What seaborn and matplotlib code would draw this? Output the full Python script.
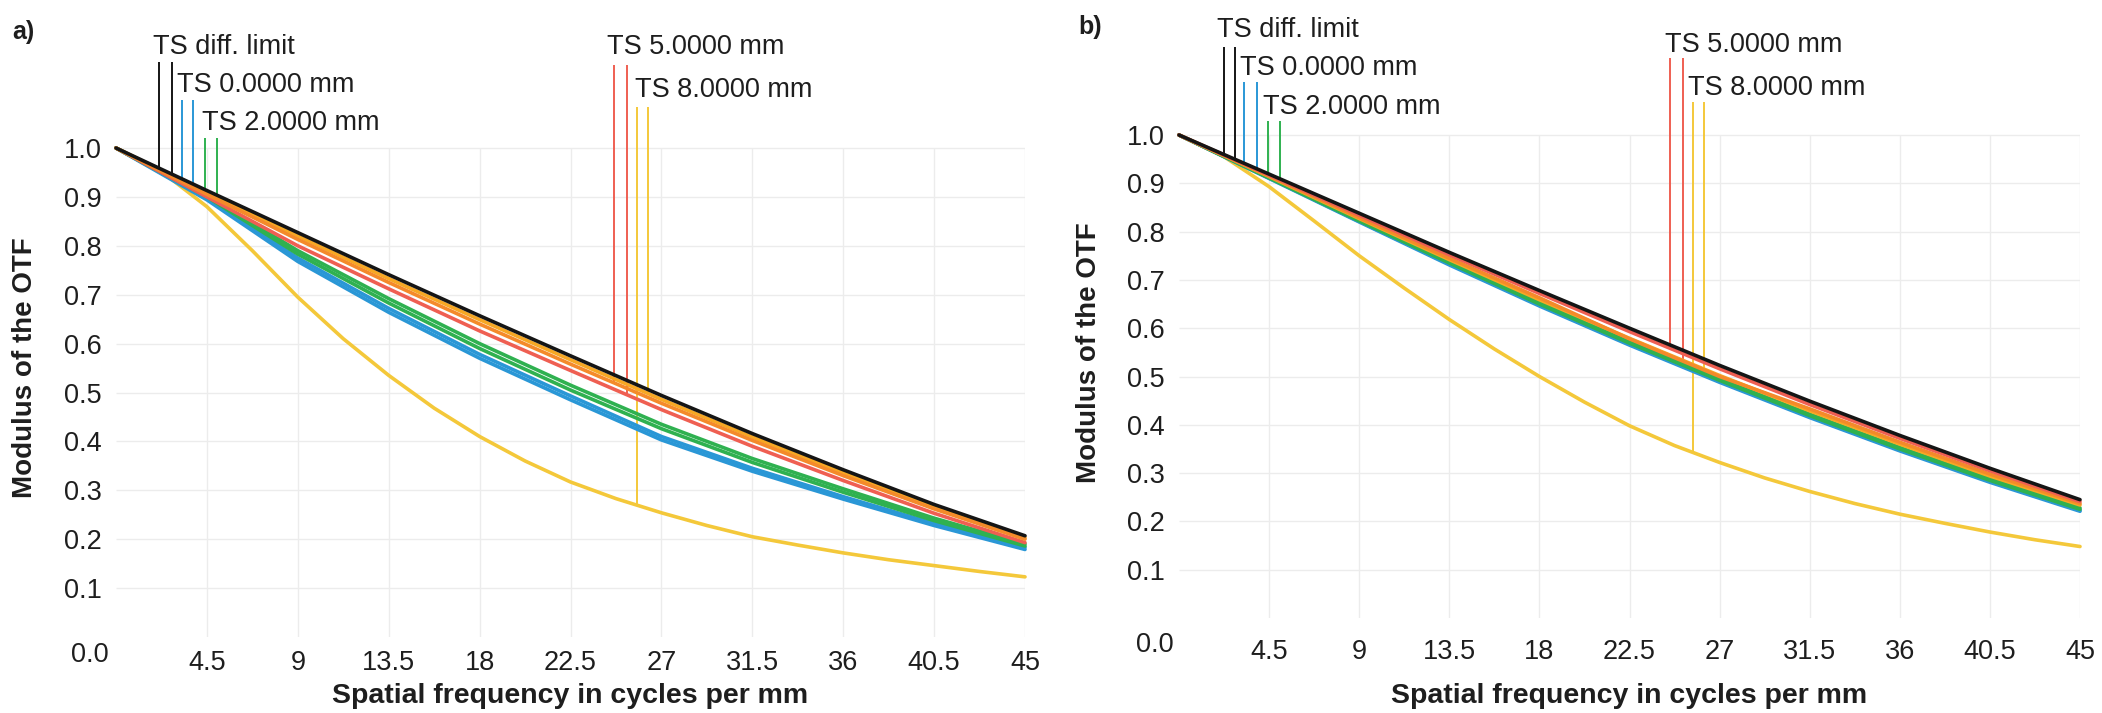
import numpy as np
import pandas as pd
import seaborn as sns
import matplotlib.pyplot as plt

sns.set_style("white")
plt.rcParams['font.family'] = ['Liberation Sans', 'DejaVu Sans']

# spatial frequency samples (cycles per mm)
freq = [0, 4.5, 9, 13.5, 18, 22.5, 27, 31.5, 36, 40.5, 45]
freq_fine = [0, 2.25, 4.5, 6.75, 9, 11.25, 13.5, 15.75, 18, 20.25, 22.5,
             24.75, 27, 29.25, 31.5, 33.75, 36, 38.25, 40.5, 42.75, 45]
xtick_vals = [4.5, 9, 13.5, 18, 22.5, 27, 31.5, 36, 40.5, 45]
xtick_labels = ["4.5", "9", "13.5", "18", "22.5", "27", "31.5", "36", "40.5", "45"]
ytick_vals = [0.1, 0.2, 0.3, 0.4, 0.5, 0.6, 0.7, 0.8, 0.9, 1.0]

# panel a) MTF values
a_diff = [1.0, 0.913, 0.827, 0.741, 0.657, 0.575, 0.494, 0.416, 0.342, 0.271, 0.207]
a_8mm_s = [1.0, 0.909, 0.820, 0.733, 0.649, 0.567, 0.486, 0.409, 0.336, 0.266, 0.203]
a_5mm_s = [1.0, 0.905, 0.813, 0.725, 0.640, 0.558, 0.478, 0.402, 0.330, 0.262, 0.200]
a_5mm_t = [1.0, 0.900, 0.800, 0.712, 0.626, 0.545, 0.465, 0.390, 0.320, 0.253, 0.193]
a_2mm_t = [1.0, 0.902, 0.790, 0.692, 0.600, 0.515, 0.435, 0.365, 0.303, 0.243, 0.190]
a_2mm_s = [1.0, 0.900, 0.783, 0.683, 0.590, 0.505, 0.426, 0.357, 0.296, 0.238, 0.186]
a_0mm_t = [1.0, 0.897, 0.775, 0.672, 0.578, 0.493, 0.410, 0.345, 0.287, 0.232, 0.183]
a_0mm_s = [1.0, 0.894, 0.768, 0.664, 0.570, 0.485, 0.403, 0.339, 0.282, 0.228, 0.179]
# the 8 mm tangential curve bends a lot, so it is read on the finer grid
a_8mm_t = [1.0, 0.952, 0.880, 0.790, 0.695, 0.610, 0.535, 0.468, 0.410, 0.360, 0.317,
           0.283, 0.254, 0.228, 0.205, 0.188, 0.172, 0.158, 0.146, 0.134, 0.123]

# panel b)
b_diff = [1.0, 0.919, 0.838, 0.757, 0.678, 0.600, 0.523, 0.449, 0.378, 0.310, 0.245]
b_5mm_s = [1.0, 0.917, 0.834, 0.752, 0.672, 0.593, 0.516, 0.442, 0.372, 0.305, 0.241]
b_5mm_t = [1.0, 0.915, 0.829, 0.745, 0.663, 0.578, 0.500, 0.433, 0.364, 0.298, 0.237]
b_8mm_s = [1.0, 0.914, 0.827, 0.742, 0.659, 0.579, 0.502, 0.429, 0.360, 0.294, 0.234]
b_2mm_t = [1.0, 0.912, 0.824, 0.738, 0.653, 0.572, 0.495, 0.422, 0.353, 0.288, 0.228]
b_2mm_s = [1.0, 0.911, 0.822, 0.735, 0.650, 0.569, 0.492, 0.419, 0.350, 0.285, 0.225]
b_0mm_t = [1.0, 0.911, 0.821, 0.733, 0.648, 0.567, 0.490, 0.417, 0.348, 0.283, 0.223]
b_0mm_s = [1.0, 0.910, 0.820, 0.731, 0.646, 0.565, 0.488, 0.415, 0.346, 0.281, 0.221]
b_8mm_t = [1.0, 0.955, 0.893, 0.822, 0.750, 0.683, 0.618, 0.557, 0.500, 0.447, 0.398,
           0.357, 0.322, 0.290, 0.262, 0.237, 0.215, 0.196, 0.178, 0.162, 0.148]

field_names = ["TS diff. limit", "TS 0.0000 mm", "TS 2.0000 mm", "TS 5.0000 mm", "TS 8.0000 mm"]

BLACK = "#151515"
BLUE = "#2a97d6"
GREEN = "#2fb150"
RED = "#ef5f52"
ORANGE = "#f48a2a"
YELLOW = "#f4c83a"
AMBER = "#f7a824"
TXT = "#1e1e1e"


def xs_for(vals):
    return freq_fine if len(vals) == len(freq_fine) else freq


def draw_panel(ax, curves, leaders, texts, tag, tag_xy, xpad, zero_off, xlabel_y):
    # faint grid inside the 0..1 box
    ax.hlines(ytick_vals, 0, 45, color="#ececec", lw=1, zorder=0)
    ax.vlines(xtick_vals, 0, 1.0, color="#ececec", lw=1, zorder=0)

    for vals, col in curves:
        sns.lineplot(x=xs_for(vals), y=vals, color=col, lw=2.6, ax=ax, legend=False,
                     zorder=3, clip_on=False)

    # leader lines from the curve up to the field labels
    for xs, series, top, col in leaders:
        for xl, s in zip(xs, series):
            bottom = np.interp(xl, xs_for(s), s)
            ax.vlines(xl, bottom, top, color=col, lw=1.4, zorder=2)

    for name, (tx, ty) in zip(field_names, texts):
        ax.text(tx, ty, name, ha="left", va="center", fontsize=19.5, color=TXT)

    ax.set_xlim(0, 45)
    ax.set_ylim(0, 1.25)
    ax.set_xticks(xtick_vals)
    ax.set_xticklabels(xtick_labels)
    ax.set_yticks(ytick_vals)
    ax.set_yticklabels([f"{v:.1f}" for v in ytick_vals])
    ax.tick_params(axis="both", length=0, labelsize=19.5, labelcolor=TXT)
    ax.tick_params(axis="y", pad=10)
    ax.tick_params(axis="x", pad=xpad)
    for sp in ax.spines.values():
        sp.set_visible(False)

    ax.annotate("0.0", xy=(0, 0), xytext=zero_off, textcoords="offset pixels",
                ha="right", va="center", fontsize=19.5, color=TXT)

    ax.set_xlabel("Spatial frequency in cycles per mm", fontsize=20.5, fontweight="bold",
                  color=TXT)
    ax.xaxis.set_label_coords(0.5, xlabel_y)
    ax.set_ylabel("Modulus of the OTF", fontsize=20, fontweight="bold", color=TXT)
    ax.yaxis.set_label_coords(-0.086, 0.44)

    fig.text(tag_xy[0], tag_xy[1], tag, fontsize=18, fontweight="bold", ha="left",
             va="center", color=TXT)


fig = plt.figure(figsize=(21.02, 7.13), dpi=100)
ax_a = fig.add_axes([0.05519, 0.10659, 0.43245, 0.85729])
ax_b = fig.add_axes([0.56090, 0.13324, 0.42864, 0.84677])

curves_a = [(a_8mm_t, YELLOW), (a_0mm_s, BLUE), (a_0mm_t, BLUE), (a_2mm_s, GREEN),
            (a_2mm_t, GREEN), (a_5mm_t, RED), (a_8mm_s, AMBER), (a_5mm_s, ORANGE),
            (a_diff, BLACK)]
leaders_a = [((2.13, 2.77), (a_diff, a_diff), 1.176, BLACK),
             ((3.27, 3.81), (a_0mm_t, a_0mm_s), 1.098, BLUE),
             ((4.41, 5.0), (a_2mm_t, a_2mm_s), 1.02, GREEN),
             ((24.65, 25.3), (a_5mm_s, a_5mm_t), 1.17, RED),
             ((25.8, 26.34), (a_8mm_t, a_8mm_s), 1.084, YELLOW)]
texts_a = [(1.83, 1.207), (3.02, 1.129), (4.26, 1.051), (24.3, 1.207), (25.7, 1.119)]

curves_b = [(b_8mm_t, YELLOW), (b_0mm_s, BLUE), (b_0mm_t, BLUE), (b_2mm_s, GREEN),
            (b_2mm_t, GREEN), (b_8mm_s, AMBER), (b_5mm_t, ORANGE), (b_5mm_s, RED),
            (b_diff, BLACK)]
leaders_b = [((2.25, 2.8), (b_diff, b_diff), 1.182, BLACK),
             ((3.24, 3.89), (b_0mm_t, b_0mm_s), 1.11, BLUE),
             ((4.44, 5.04), (b_2mm_t, b_2mm_s), 1.029, GREEN),
             ((24.5, 25.15), (b_5mm_s, b_5mm_t), 1.159, RED),
             ((25.65, 26.2), (b_8mm_t, b_8mm_s), 1.068, YELLOW)]
texts_b = [(1.9, 1.217), (3.04, 1.139), (4.19, 1.058), (24.25, 1.186), (25.4, 1.097)]

draw_panel(ax_a, curves_a, leaders_a, texts_a, "a)", (0.006, 0.955), 9, (-7, -18), -0.075)
draw_panel(ax_b, curves_b, leaders_b, texts_b, "b)", (0.513, 0.962), 15, (-5, -27), -0.108)

fig.savefig("out.png", dpi=100)
